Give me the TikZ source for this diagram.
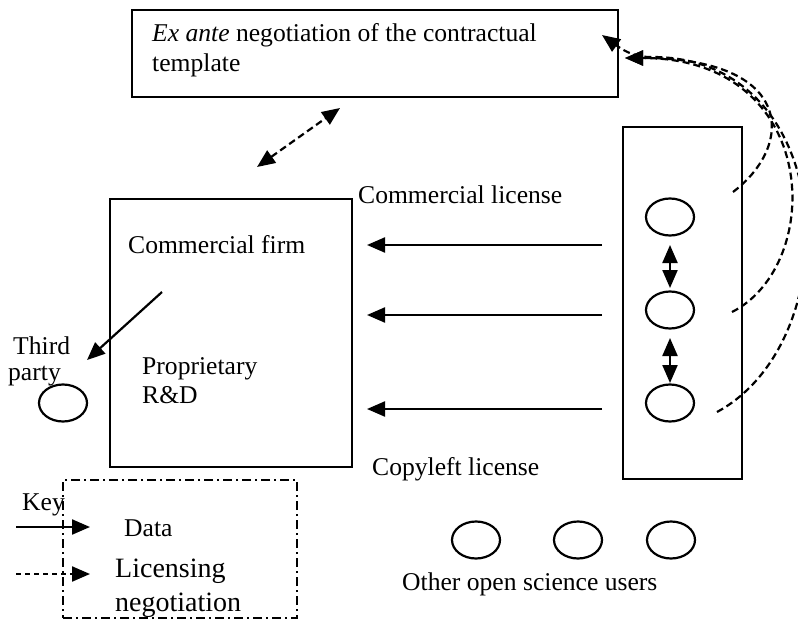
\documentclass[tikz,border=0pt]{standalone}
\usepackage{fontspec}
\setmainfont{Liberation Serif}
\usetikzlibrary{arrows.meta,shapes.geometric}
\begin{document}
\begin{tikzpicture}[x=1pt,y=-1pt,
  lbl/.style={font=\fontsize{25.6}{30}\selectfont, inner sep=0pt, anchor=base west},
  biglbl/.style={font=\fontsize{28}{32}\selectfont, inner sep=0pt, anchor=base west},
  frame/.style={draw, line width=2.2pt, inner sep=0pt},
  party/.style={draw, line width=2.2pt, ellipse, minimum width=48pt, minimum height=37pt, inner sep=0pt},
  tri/.tip={Triangle[length=18pt,width=15pt]},
  head/.style={-tri},
  datalink/.style={line width=2.2pt, head},
  neglink/.style={line width=2.2pt, dash pattern=on 7pt off 4pt, head},
  twoway/.style={line width=2.2pt, tri-tri},
  keyframe/.style={draw, line width=1.8pt, dash pattern=on 9pt off 4pt on 2pt off 4pt, inner sep=0pt}
]
\clip (0,0) rectangle (798,621);

% boxes
\node[frame, minimum width=486pt, minimum height=87pt] (template) at (375,53.5) {};
\node[frame, minimum width=242pt, minimum height=268pt] (firm) at (231,333) {};
\node[frame, minimum width=119pt, minimum height=352pt] (community) at (682.5,303) {};
\node[keyframe, minimum width=234pt, minimum height=138pt] (key) at (180,549) {};

% labels
\node[lbl] (exante) at (152,41) {\emph{Ex ante} negotiation of the contractual};
\node[lbl] (templ) at (152,71) {template};
\node[lbl] (firmlbl) at (128,253) {Commercial firm};
\node[lbl] (prop) at (142,374) {Proprietary};
\node[lbl] (rd) at (142,403) {R\&D};
\node[lbl] (third) at (13,354) {Third};
\node[lbl] (partylbl) at (8,380) {party};
\node[lbl] (commlic) at (358,203) {Commercial license};
\node[lbl] (copylic) at (372,475) {Copyleft license};
\node[lbl] (others) at (402,590) {Other open science users};
\node[lbl] (keylbl) at (22,510) {Key};
\node[lbl] (datalbl) at (124,536) {Data};
\node[biglbl] (liclbl) at (115,577) {Licensing};
\node[biglbl] (neglbl) at (115,611) {negotiation};

% participants
\node[party] (tp) at (63,403) {};
\node[party] (u1) at (670,217) {};
\node[party] (u2) at (670,310) {};
\node[party] (u3) at (670,403) {};
\node[party] (o1) at (476,540) {};
\node[party] (o2) at (578,540) {};
\node[party] (o3) at (671,540) {};

% connector end points
\coordinate (d1s) at (602,245); \coordinate (d1e) at (367,245);
\coordinate (d2s) at (602,315); \coordinate (d2e) at (367,315);
\coordinate (d3s) at (602,409); \coordinate (d3e) at (367,409);
\coordinate (tps) at (162,292); \coordinate (tpe) at (87,360);
\coordinate (nfs) at (257,167); \coordinate (nfe) at (340,108);
\coordinate (u12a) at (670,245); \coordinate (u12b) at (670,288);
\coordinate (u23a) at (670,338); \coordinate (u23b) at (670,383);
\coordinate (ca) at (733,192);
\coordinate (cb) at (732,312);
\coordinate (cc) at (717,412);
\coordinate (ta) at (625,58);
\coordinate (tb) at (602,35);
\coordinate (k1s) at (16,527); \coordinate (k1e) at (90,527);
\coordinate (k2s) at (16,574); \coordinate (k2e) at (90,574);

% data flows
\draw[datalink] (d1s) -- (d1e);
\draw[datalink] (d2s) -- (d2e);
\draw[datalink] (d3s) -- (d3e);
\draw[datalink] (tps) -- (tpe);
\draw[twoway] (u12a) -- (u12b);
\draw[twoway] (u23a) -- (u23b);

% licensing negotiations
\draw[line width=2.2pt, dash pattern=on 7pt off 4pt, tri-tri] (nfs) -- (nfe);
\draw[neglink] (ca) .. controls (795,145) and (795,58) .. (ta);
\draw[neglink] (cb) .. controls (825,265) and (822,58) .. (ta);
\draw[neglink] (cc) .. controls (850,340) and (840,55) .. (650,57)
                    .. controls (632,57) and (620,48) .. (tb);

% key
\draw[datalink] (k1s) -- (k1e);
\draw[line width=2.2pt, dash pattern=on 5pt off 4pt, head] (k2s) -- (k2e);
\end{tikzpicture}
\end{document}
